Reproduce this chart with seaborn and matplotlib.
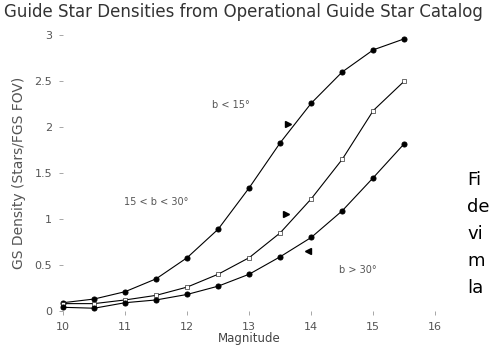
import matplotlib
matplotlib.use('Agg')
import matplotlib.pyplot as plt
import seaborn as sns

# guide star densities vs magnitude, three galactic latitude bands
mags = [10, 10.5, 11, 11.5, 12, 12.5, 13, 13.5, 14, 14.5, 15, 15.5]
low_lat = [0.09, 0.13, 0.21, 0.35, 0.58, 0.89, 1.34, 1.83, 2.26, 2.60, 2.84, 2.96]
mid_lat = [0.08, 0.08, 0.12, 0.17, 0.26, 0.40, 0.58, 0.85, 1.22, 1.65, 2.18, 2.50]
high_lat = [0.04, 0.03, 0.09, 0.12, 0.18, 0.27, 0.40, 0.59, 0.80, 1.09, 1.45, 1.82]

band_labels = ['b < 15°', '15 < b < 30°', 'b > 30°']
label_x = [12.7, 11.5, 14.75]
label_y = [2.24, 1.18, 0.45]
pointer_x = [13.62, 13.6, 13.95]
pointer_y = [2.03, 1.05, 0.65]
pointer_mark = ['>', '>', '<']

x_ticks = [10, 11, 12, 13, 14, 15, 16]
y_ticks = [0, 0.5, 1, 1.5, 2, 2.5, 3]
y_ticklabels = ['0', '0.5', '1', '1.5', '2', '2.5', '3']

side_words = ['Fi', 'de', 'vi', 'm', 'la']

sns.set_theme(style='white')
plt.rcParams['font.family'] = ['DejaVu Sans']

fig = plt.figure(figsize=(4.93, 3.55), dpi=100)
ax = fig.add_axes([0.128, 0.124, 0.755, 0.777])

sns.lineplot(x=mags, y=low_lat, ax=ax, color='black', lw=0.8, marker='o',
             markersize=3.6, markeredgecolor='black', clip_on=False)
sns.lineplot(x=mags, y=mid_lat, ax=ax, color='black', lw=0.8, marker='s',
             markersize=3.2, markerfacecolor='white', markeredgecolor='black',
             markeredgewidth=0.4, clip_on=False)
sns.lineplot(x=mags, y=high_lat, ax=ax, color='black', lw=0.8, marker='o',
             markersize=3.6, markeredgecolor='black', clip_on=False)

for lab, lx, ly in zip(band_labels, label_x, label_y):
    ax.text(lx, ly, lab, fontsize=7, color='#555555', ha='center', va='center')
for px, py, m in zip(pointer_x, pointer_y, pointer_mark):
    ax.plot(px, py, marker=m, color='black', markersize=4, ls='none')

ax.set_xlim(10, 16)
ax.set_ylim(0, 3)
ax.set_xticks(x_ticks)
ax.set_yticks(y_ticks)
ax.set_yticklabels(y_ticklabels)
ax.tick_params(axis='both', labelsize=8, labelcolor='#555555', color='#999999',
               length=3, width=0.6, direction='out', bottom=True, left=True, pad=5)
for s in ax.spines.values():
    s.set_visible(False)

ax.set_xlabel('Magnitude', fontsize=8.5, color='#444444', labelpad=0)
ax.set_ylabel('GS Density (Stars/FGS FOV)', fontsize=10, color='#555555', labelpad=6)

fig.text(0.008, 0.965, 'Guide Star Densities from Operational Guide Star Catalog',
         fontsize=12, color='#333333', ha='left', va='center')

for i, w in enumerate(side_words):
    fig.text(467 / 493, 1 - (180 + 27 * i) / 355, w, fontsize=13, color='black',
             ha='left', va='center')

fig.savefig('out.png', dpi=100)
